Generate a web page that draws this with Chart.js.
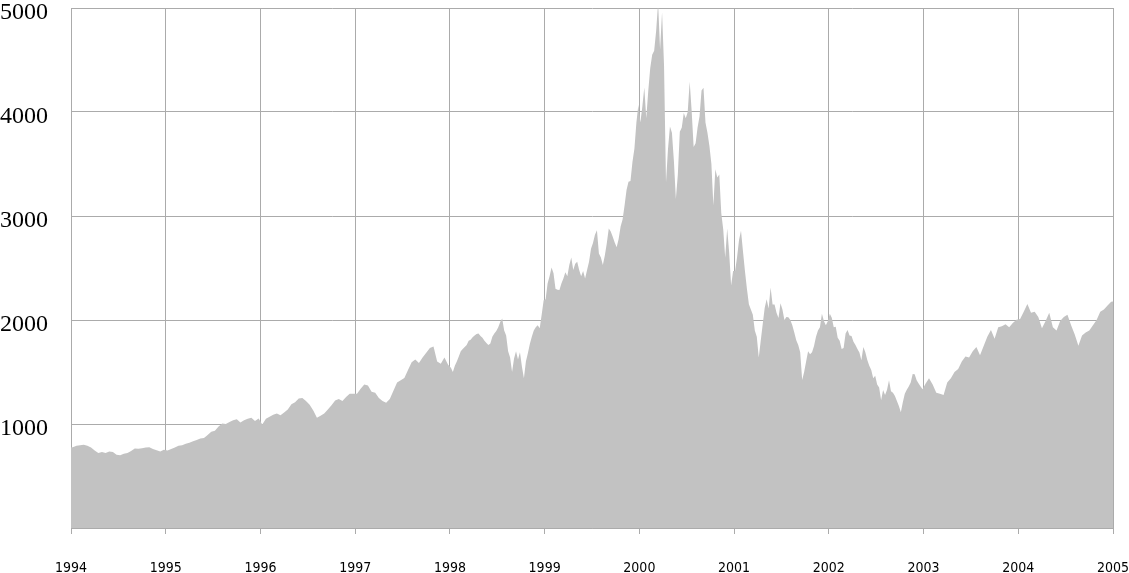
<!DOCTYPE html>
<html>
<head>
<meta charset="utf-8">
<script src="https://cdn.jsdelivr.net/npm/chart.js@4/dist/chart.umd.min.js"></script>
<style>
html,body{margin:0;padding:0;background:#fff;}
#wrap{width:1129px;height:573px;position:relative;}
</style>
</head>
<body>
<div id="wrap"><canvas id="c" width="1129" height="573"></canvas></div>
<script>
// Year labels / ticks
const years = [1994,1995,1996,1997,1998,1999,2000,2001,2002,2003,2004,2005];
const yTicks = [0,1000,2000,3000,4000,5000];

// Index level, per year (evenly spaced within each year)
const startValue = 776;
const v1994 = [777,790,795,800,790,775,745,720,730,720,735,730,705,700,715,722,740,765,762,768,775,777,760,748,735,752];
const v1995 = [745,760,775,790,795,810,820,835,845,860,865,895,925,935,975,1005,1000,1020,1035,1045,1015,1036,1050,1060,1030,1052];
const v1996 = [995,1050,1070,1090,1100,1085,1110,1140,1190,1210,1245,1250,1220,1185,1130,1060,1080,1100,1140,1180,1225,1240,1220,1260,1290,1291];
const v1997 = [1290,1340,1380,1370,1310,1300,1250,1222,1205,1240,1320,1400,1420,1442,1520,1594,1620,1587,1640,1686,1730,1745,1600,1580,1640,1570];
const v1998 = [1540,1500,1560,1600, 1650,1700,1720,1740, 1760,1800,1810,1835, 1850,1865,1870,1845,
               1830,1800,1780,1760, 1775,1840,1870,1895, 1930,1980,2014,1900, 1850,1700,1640,1499,
               1630,1700,1620,1690, 1550,1440,1600,1680, 1770,1840,1900,1930, 1950,1920,2050,2190];
const v1999 = [2200,2350,2420,2505, 2450,2300,2290,2288, 2350,2400,2460,2420, 2530,2600,2480,2542,
               2560,2480,2420,2471, 2400,2480,2560,2686, 2740,2820,2864,2640, 2600,2530,2620,2739,
               2880,2850,2800,2746, 2700,2780,2900,2966, 3100,3250,3330,3336, 3520,3650,3900,4069];
const v2000 = [3900,4050,4235,3940, 4200,4420,4550,4590, 4780,5048,4600,4960, 4446,3321,3643,3860,
               3800,3530,3164,3400, 3810,3850,3990,3940, 4000,4290,4010,3663, 3700,3850,3960,4206,
               4234,3900,3800,3673, 3500,3100,3450,3370, 3400,3030,2870,2598, 2880,2650,2332,2470];
const v2001 = [2470,2600,2770,2859, 2660,2470,2300,2151, 2100,2050,1900,1840, 1640,1800,1960,2116,
               2200,2110,2313,2150, 2150,2070,2020,2161, 2100,2000,2030,2027, 2000,1950,1880,1805,
               1760,1690,1423,1499, 1600,1700,1670,1690, 1750,1840,1900,1930, 2059,1990,1950,1987];
const v2002 = [2059,2022,1930,1934, 1830,1800,1720,1731, 1870,1904,1850,1845, 1790,1760,1720,1688,
               1613,1740,1690,1616, 1560,1520,1440,1463, 1380,1350,1229,1328, 1280,1330,1420,1315,
               1300,1270,1220,1172, 1114,1210,1290,1330, 1360,1400,1480,1479, 1420,1390,1360,1335];
const v2003 = [1384,1440,1380,1300,1290,1280,1400,1440,1500,1530,1600,1650,1640,1700,1740,1660,1750,1840,1904,1820,1930,1940,1960,1930,1970,2003];
const v2004 = [2010,2080,2153,2070,2080,2030,1920,1990,2070,1930,1900,1990,2029,2050,1950,1860,1752,1850,1880,1900,1950,2000,2080,2100,2140,2175];
const endValue = 2178;

const perYear = [v1994,v1995,v1996,v1997,v1998,v1999,v2000,v2001,v2002,v2003,v2004];

const points = [{x: years[0], y: startValue}];
perYear.forEach((arr, k) => {
  const yr = years[k];
  arr.forEach((v, i) => points.push({x: yr + (i + 0.5) / arr.length, y: v}));
});
points.push({x: years[years.length - 1], y: endValue});

const gridColor = '#ababab';

new Chart(document.getElementById('c'), {
  type: 'line',
  data: {
    datasets: [{
      data: points,
      backgroundColor: '#c2c2c2',
      borderWidth: 0,
      borderColor: 'rgba(0,0,0,0)',
      pointRadius: 0,
      fill: 'origin',
      tension: 0
    }]
  },
  options: {
    responsive: false,
    animation: false,
    events: [],
    layout: {padding: {top: 8, right: 16, left: 0, bottom: 0}},
    plugins: {legend: {display: false}, tooltip: {enabled: false}},
    scales: {
      x: {
        type: 'linear',
        min: years[0],
        max: years[years.length - 1],
        z: 1,
        afterBuildTicks: s => { s.ticks = years.map(v => ({value: v})); },
        afterFit: s => { s.height = 45; s.paddingLeft = 0; s.paddingRight = 0; },
        grid: {color: gridColor, lineWidth: 1, tickLength: 6, drawTicks: true},
        border: {color: gridColor},
        ticks: {
          autoSkip: false,
          maxRotation: 0,
          padding: 26,
          color: '#000',
          font: {family: '"DejaVu Sans Condensed", "DejaVu Sans"', size: 14},
          callback: v => String(v)
        }
      },
      y: {
        min: 0,
        max: 5000,
        z: 1,
        afterBuildTicks: s => { s.ticks = yTicks.map(v => ({value: v})); },
        afterFit: s => { s.width = 71; s.paddingTop = 0; s.paddingBottom = 0; },
        grid: {color: gridColor, lineWidth: 1, drawTicks: false},
        border: {color: gridColor},
        ticks: {
          crossAlign: 'far',
          padding: 0,
          labelOffset: 5,
          color: '#000',
          font: {family: '"Liberation Serif", serif', size: 24},
          callback: v => v === 0 ? '' : String(v)
        }
      }
    }
  }
});
</script>
</body>
</html>
